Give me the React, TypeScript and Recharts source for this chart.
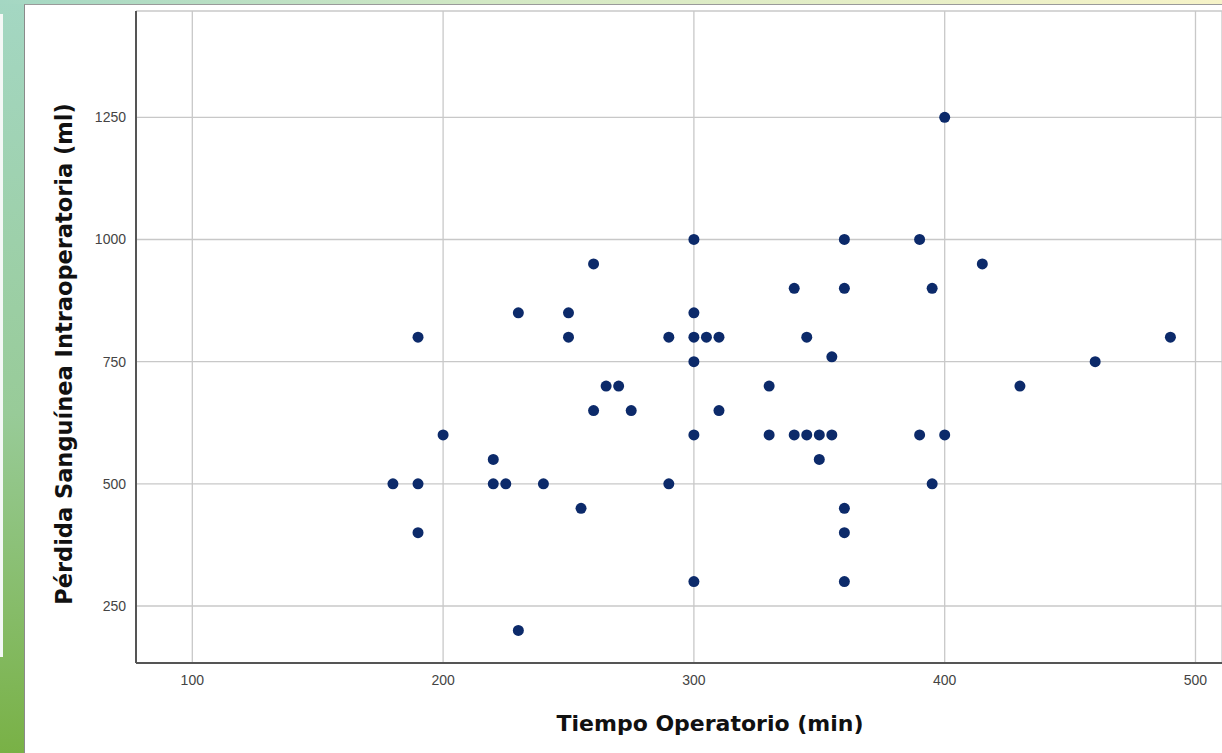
import React from "react";
import { ScatterChart, Scatter, XAxis, YAxis, CartesianGrid, Label } from "recharts";

// Tiempo operatorio (min) vs pérdida sanguínea (ml)
const tiempo = [
  180, 190, 190, 190, 200, 220, 220, 225, 230, 230, 240, 250, 250, 255, 260, 260, 265, 270, 275,
  290, 290, 300, 300, 300, 300, 300, 300, 305, 310, 310, 330, 330, 340, 340, 345, 345, 350, 350,
  355, 355, 360, 360, 360, 360, 360, 390, 390, 395, 395, 400, 400, 415, 430, 460, 490,
];
const perdida = [
  500, 800, 500, 400, 600, 550, 500, 500, 850, 200, 500, 850, 800, 450, 950, 650, 700, 700, 650,
  800, 500, 1000, 850, 800, 750, 600, 300, 800, 800, 650, 700, 600, 900, 600, 800, 600, 600, 550,
  760, 600, 1000, 900, 450, 400, 300, 1000, 600, 900, 500, 1250, 600, 950, 700, 750, 800,
];
const xTicks = [100, 200, 300, 400, 500];
const yTicks = [250, 500, 750, 1000, 1250];

const data = tiempo.map((t, i) => ({ tiempo: t, perdida: perdida[i] }));

const tickStyle = { fontFamily: "Liberation Sans, Arial, sans-serif", fontSize: 14, fill: "#444" };
const titleFont = "DejaVu Sans, sans-serif";

const Dot = (props: any) => <circle cx={props.cx} cy={props.cy} r={5.5} fill="#0c2a6a" />;

const XTitle = (props: any) => {
  const vb = props.viewBox;
  return (
    <text x={vb.x + vb.width / 2 + 31} y={vb.y + 68} textAnchor="middle"
      fontFamily={titleFont} fontWeight="bold" fontSize={22} fill="#111">
      Tiempo Operatorio (min)
    </text>
  );
};

const YTitle = (props: any) => {
  const vb = props.viewBox;
  const x = 72;
  const y = vb.y + vb.height / 2 + 17;
  return (
    <text x={x} y={y} transform={`rotate(-90, ${x}, ${y})`} textAnchor="middle"
      fontFamily={titleFont} fontWeight="bold" fontSize={22.5} fill="#111">
      Pérdida Sanguínea Intraoperatoria (ml)
    </text>
  );
};

export default function App() {
  return (
    <div style={{ position: "absolute", left: 0, top: 0, width: 1222, height: 753, overflow: "hidden",
      background: "linear-gradient(to bottom, #a4d7c3 0%, #98cb98 55%, #79b146 100%)" }}>
      <div style={{ position: "absolute", left: 0, top: 0, width: 1222, height: 4,
        background: "linear-gradient(to right, #a4d7c3 0%, #d2e8c4 40%, #f6f3c8 100%)" }} />
      <div style={{ position: "absolute", left: 0, top: 14, width: 3, height: 643, background: "#f4f8f6" }} />
      <div style={{ position: "absolute", left: 24, top: 4, right: 0, bottom: 0, background: "#fff",
        borderLeft: "1px solid #8a8a8a", borderTop: "1px solid #9a9a9a" }} />
      <div style={{ position: "absolute", left: 0, top: 0 }}>
        <ScatterChart width={1222} height={753} margin={{ top: 11, right: 0, left: 0, bottom: 0 }}>
          <CartesianGrid stroke="#c8c8c8" strokeWidth={1.3} />
          <XAxis type="number" dataKey="tiempo" domain={[77.55, 510.57]} ticks={xTicks}
            allowDataOverflow height={90} tickLine={false} tickMargin={6} tick={tickStyle}
            axisLine={{ stroke: "#555", strokeWidth: 2 }}>
            <Label content={XTitle} />
          </XAxis>
          <YAxis type="number" dataKey="perdida" domain={[133.4, 1467.5]} ticks={yTicks}
            allowDataOverflow width={136} tickLine={false} tickMargin={4} tick={tickStyle}
            axisLine={{ stroke: "#555", strokeWidth: 2 }}>
            <Label content={YTitle} />
          </YAxis>
          <Scatter data={data} shape={Dot} isAnimationActive={false} />
        </ScatterChart>
      </div>
    </div>
  );
}
